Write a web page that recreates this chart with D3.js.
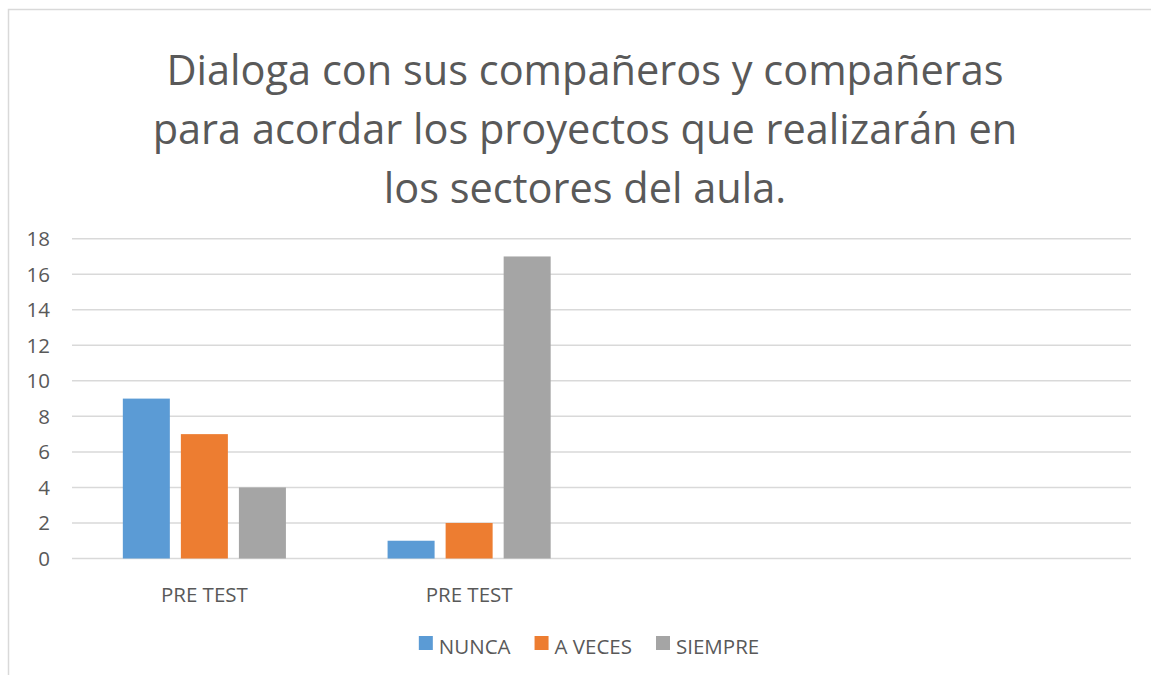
<!DOCTYPE html>
<html>
<head>
<meta charset="utf-8">
<script src="https://cdn.jsdelivr.net/npm/d3@7"></script>
<style>
  body { margin: 0; background: #fff; }
  svg { display: block; }
  text { font-family: "Open Sans", sans-serif; fill: #595959; }
</style>
</head>
<body>
<div id="chart"></div>
<script>
// chart data
var titleLines = ["Dialoga con sus compañeros y compañeras",
                  "para acordar los proyectos que realizarán en",
                  "los sectores del aula."];
var categories = ["PRE TEST", "PRE TEST", "", ""];
var seriesNames = ["NUNCA", "A VECES", "SIEMPRE"];
var nunca = [9, 1, null, null];
var aVeces = [7, 2, null, null];
var siempre = [4, 17, null, null];
var yTicks = [0, 2, 4, 6, 8, 10, 12, 14, 16, 18];
var colors = ["#5b9bd5", "#ed7d31", "#a5a5a5"];

var W = 1151, H = 675;
var plot = { left: 72, right: 1131, top: 238.7, bottom: 558.5 };
var labelSize = "20.5px";

var svg = d3.select("#chart").append("svg")
    .attr("width", W)
    .attr("height", H);

// outer frame (only top and left are visible)
svg.append("path")
    .attr("d", `M8.5,${H} L8.5,9.5 L${W},9.5`)
    .attr("fill", "none")
    .attr("stroke", "#d9d9d9")
    .attr("stroke-width", 1.5);

// title
svg.append("g")
    .selectAll("text")
    .data(titleLines)
    .join("text")
    .attr("x", 585)
    .attr("y", (d, i) => 85 + i * 59)
    .attr("text-anchor", "middle")
    .style("font-size", "41.5px")
    .text(d => d);

var x0 = d3.scaleBand()
    .domain(d3.range(categories.length))
    .range([plot.left, plot.right])
    .paddingInner(0.384)
    .paddingOuter(0.192);

var x1 = d3.scaleBand()
    .domain(seriesNames)
    .range([0, x0.bandwidth()])
    .paddingInner(0.19);

var y = d3.scaleLinear()
    .domain([0, 18])
    .range([plot.bottom, plot.top]);

// gridlines
svg.append("g")
    .selectAll("line")
    .data(yTicks)
    .join("line")
    .attr("x1", plot.left)
    .attr("x2", plot.right)
    .attr("y1", d => y(d))
    .attr("y2", d => y(d))
    .attr("stroke", "#d9d9d9")
    .attr("stroke-width", 1.5);

// y labels
svg.append("g")
    .selectAll("text")
    .data(yTicks)
    .join("text")
    .attr("x", 50)
    .attr("y", d => y(d))
    .attr("dy", "0.36em")
    .attr("text-anchor", "end")
    .style("font-size", labelSize)
    .text(d => d);

// bars
var seriesValues = [nunca, aVeces, siempre];
var groups = svg.append("g")
    .selectAll("g")
    .data(categories.map((c, i) => i))
    .join("g")
    .attr("transform", i => `translate(${x0(i)},0)`);

groups.selectAll("rect")
    .data(i => seriesNames.map((s, k) => ({ s: s, k: k, v: seriesValues[k][i] }))
        .filter(d => d.v != null))
    .join("rect")
    .attr("x", d => x1(d.s))
    .attr("width", x1.bandwidth())
    .attr("y", d => y(d.v))
    .attr("height", d => y(0) - y(d.v))
    .attr("fill", d => colors[d.k]);

// category labels
svg.append("g")
    .selectAll("text")
    .data(categories)
    .join("text")
    .attr("x", (d, i) => x0(i) + x0.bandwidth() / 2)
    .attr("y", 602)
    .attr("text-anchor", "middle")
    .style("font-size", labelSize)
    .text(d => d);

// legend
var legend = svg.append("g");
var items = legend.selectAll("g")
    .data(seriesNames)
    .join("g");
items.append("rect")
    .attr("width", 14)
    .attr("height", 14)
    .attr("y", 636)
    .attr("fill", (d, i) => colors[i]);
items.append("text")
    .attr("x", 20)
    .attr("y", 654)
    .style("font-size", labelSize)
    .text(d => d);

var widths = [];
items.each(function() { widths.push(this.getBBox().width); });
var gap = 24;
var total = d3.sum(widths) + gap * (widths.length - 1);
var cx = 589 - total / 2;
items.attr("transform", (d, i) => {
    let off = cx + d3.sum(widths.slice(0, i)) + gap * i;
    return `translate(${off},0)`;
});
</script>
</body>
</html>
